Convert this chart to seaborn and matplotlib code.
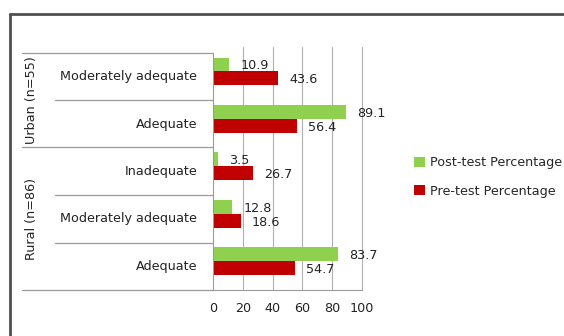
import matplotlib
matplotlib.use("Agg")
import matplotlib.pyplot as plt
import seaborn as sns
import pandas as pd
from matplotlib.patches import Patch
from matplotlib.lines import Line2D

groups = ["Urban (n=55)", "Urban (n=55)", "Rural (n=86)", "Rural (n=86)", "Rural (n=86)"]
levels = ["Moderately adequate", "Adequate", "Inadequate", "Moderately adequate", "Adequate"]
post = [10.9, 89.1, 3.5, 12.8, 83.7]
pre = [43.6, 56.4, 26.7, 18.6, 54.7]
series = ["Post-test Percentage", "Pre-test Percentage"]
xticks = [0, 20, 40, 60, 80, 100]

GREEN = "#8fd14f"
RED = "#c00000"

keys = [f"{g}|{l}" for g, l in zip(groups, levels)]
rows = []
for k, a, b in zip(keys, post, pre):
    rows.append({"cat": k, "series": series[0], "value": a})
    rows.append({"cat": k, "series": series[1], "value": b})
df = pd.DataFrame(rows)

sns.set_theme(style="white")
plt.rcParams["font.family"] = ["DejaVu Sans"]

W, H = 564, 336
fig = plt.figure(figsize=(W / 100, H / 100), dpi=100)

def fx(px):
    return px / W

def fy(py):
    return 1 - py / H

FS = 9.2
TXT = "#222222"
ax_left, ax_right, ax_top, ax_bot = 213, 362, 53, 290
ax = fig.add_axes([fx(ax_left), fy(ax_bot), fx(ax_right - ax_left), fy(ax_top) - fy(ax_bot)])

sns.barplot(data=df, y="cat", x="value", hue="series", order=keys, hue_order=series,
            palette=[GREEN, RED], orient="h", width=0.59, ax=ax, legend=False,
            edgecolor="none", saturation=1)

shift = 0.11
ax.set_xlim(0, 100)
ax.set_ylim(len(keys) - 0.5 + shift, -0.5 + shift)
ax.set_xticks(xticks)
ax.set_xticklabels([str(t) for t in xticks], fontsize=FS, color=TXT)
ax.tick_params(axis="x", length=5, color="#9a9a9a", pad=4, width=0.8)
ax.set_yticks([])
ax.set_xlabel("")
ax.set_ylabel("")
for s in ["top", "right"]:
    ax.spines[s].set_visible(False)
ax.spines["left"].set_color("#9a9a9a")
ax.spines["bottom"].set_color("#9a9a9a")
ax.spines["left"].set_linewidth(0.8)
ax.spines["bottom"].set_linewidth(0.8)
for t in xticks[1:]:
    ax.plot([t, t], [len(keys) - 0.5 + shift, -0.62 + shift], color="#b0b0b0", lw=0.8,
            zorder=0, clip_on=False)

# value labels
for cont in ax.containers:
    for rect in cont:
        w = rect.get_width()
        yc = rect.get_y() + rect.get_height() / 2
        ax.annotate(f"{w:.1f}", xy=(w, yc), xytext=(8, -1), textcoords="offset points",
                    va="center", ha="left", fontsize=FS, color=TXT, annotation_clip=False)

# category label area
line_c = "#9a9a9a"
sep_y = [53, 100, 147, 195, 243, 290]
group_sep = {53, 147, 290}
for y in sep_y:
    x0 = 22 if y in group_sep else 55
    fig.add_artist(Line2D([fx(x0), fx(ax_left)], [fy(y), fy(y)], color=line_c, lw=0.9))

row_h = (ax_bot - ax_top) / len(keys)
for i, lab in enumerate(levels):
    yc = ax_top + row_h * (i + 0.5)
    fig.text(fx(197), fy(yc), lab, ha="right", va="center", fontsize=FS, color=TXT)

fig.text(fx(32), fy((53 + 147) / 2), "Urban (n=55)", rotation=90, ha="center", va="center",
         fontsize=FS, color=TXT)
fig.text(fx(32), fy((147 + 290) / 2), "Rural (n=86)", rotation=90, ha="center", va="center",
         fontsize=FS, color=TXT)

# outer frame
fig.add_artist(Line2D([fx(10), fx(W)], [fy(14), fy(14)], color="#505050", lw=2))
fig.add_artist(Line2D([fx(10), fx(10)], [fy(14), fy(H)], color="#505050", lw=2))

# legend
handles = [Patch(facecolor=GREEN, edgecolor="none"), Patch(facecolor=RED, edgecolor="none")]
fig.legend(handles, series, loc="center left", bbox_to_anchor=(fx(403), fy(177)), frameon=False,
           fontsize=FS, handlelength=0.8, handleheight=0.8, handletextpad=0.4, labelspacing=1.2)

fig.savefig("out.png", dpi=100)
